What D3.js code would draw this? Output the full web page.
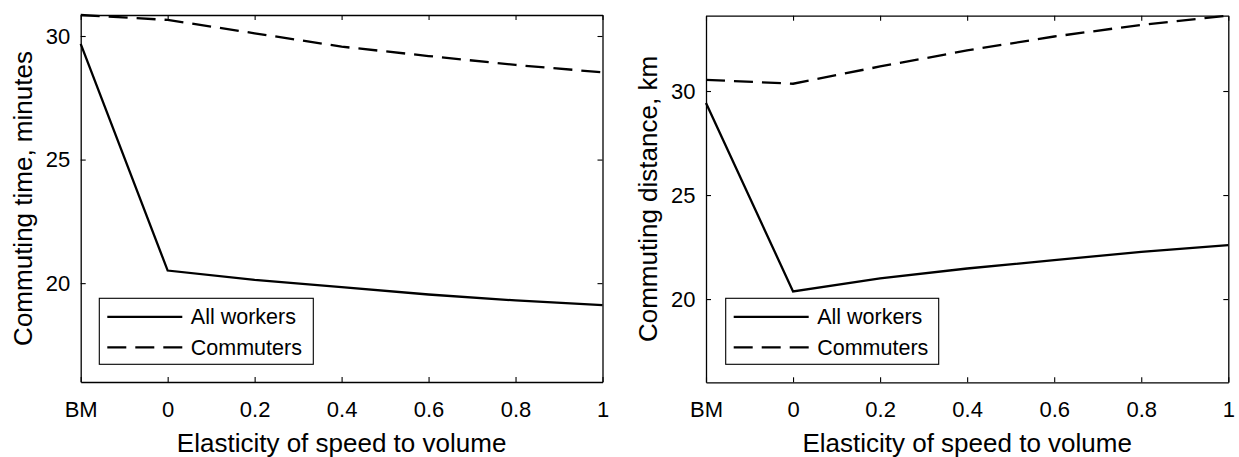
<!DOCTYPE html>
<html>
<head>
<meta charset="utf-8">
<script src="https://cdn.jsdelivr.net/npm/d3@7"></script>
<style>
  html, body { margin: 0; padding: 0; background: #fff; }
  svg { display: block; }
  text { font-family: "Liberation Sans", Arial, Helvetica, sans-serif; fill: #000; }
</style>
</head>
<body>
<svg id="chart" width="1239" height="457"></svg>
<script>
// ---- data ----
const xCategories = ["BM", "0", "0.2", "0.4", "0.6", "0.8", "1"];
const timeAllWorkers = [29.68, 20.51, 20.13, 19.84, 19.54, 19.30, 19.11];
const timeCommuters  = [30.85, 30.65, 30.11, 29.57, 29.19, 28.83, 28.53];
const distAllWorkers = [29.42, 20.37, 20.99, 21.47, 21.87, 22.27, 22.59];
const distCommuters  = [30.54, 30.35, 31.18, 31.95, 32.62, 33.18, 33.62];
const timeYTicks = [20, 25, 30];
const distYTicks = [20, 25, 30];
const timeYDomain = [16, 30.85];
const distYDomain = [16, 33.62];
const seriesNames = ["All workers", "Commuters"];
const xLabel = "Elasticity of speed to volume";
const timeYLabel = "Commuting time, minutes";
const distYLabel = "Commuting distance, km";

const svg = d3.select("#chart");

const panels = [
  { left: 80.7, right: 602.5, top: 15, bottom: 382, yDomain: timeYDomain, yTicks: timeYTicks,
    yLabel: timeYLabel, yLabelX: 32, series: [timeAllWorkers, timeCommuters],
    legend: { x: 99.3, y: 298.3, w: 214, h: 66 } },
  { left: 706, right: 1228.3, top: 15.7, bottom: 382.3, yDomain: distYDomain, yTicks: distYTicks,
    yLabel: distYLabel, yLabelX: 657, series: [distAllWorkers, distCommuters],
    legend: { x: 725.7, y: 298.3, w: 213, h: 66 } }
];

const dashes = [null, "19,9"];
const TICK_FS = 22;
const LABEL_FS = 26;
const LEGEND_FS = 21.5;

panels.forEach(p => {
  const g = svg.append("g");
  const x = d3.scalePoint().domain(xCategories).range([p.left, p.right]);
  const y = d3.scaleLinear().domain(p.yDomain).range([p.bottom, p.top]);
  const tl = 5;

  // data lines
  const line = d3.line().x((d, i) => x(xCategories[i])).y(d => y(d));
  p.series.forEach((s, k) => {
    g.append("path").datum(s)
      .attr("d", line)
      .attr("fill", "none")
      .attr("stroke", "#000")
      .attr("stroke-width", 2.3)
      .attr("stroke-dasharray", dashes[k]);
  });

  // axes (box with inward ticks)
  const bottomAxis = d3.axisBottom(x).tickSizeInner(-tl).tickSizeOuter(0).tickPadding(19);
  const topAxis = d3.axisTop(x).tickSizeInner(-tl).tickSizeOuter(0).tickFormat("");
  const leftAxis = d3.axisLeft(y).tickValues(p.yTicks).tickSizeInner(-tl).tickSizeOuter(0).tickPadding(10.5);
  const rightAxis = d3.axisRight(y).tickValues(p.yTicks).tickSizeInner(-tl).tickSizeOuter(0).tickFormat("");

  const styleAxis = sel => {
    sel.selectAll("path.domain").attr("stroke", "#000").attr("stroke-width", 1.3);
    sel.selectAll(".tick line").attr("stroke", "#000").attr("stroke-width", 1.1);
    sel.selectAll(".tick text").style("font-size", TICK_FS + "px")
      .style("font-family", '"Liberation Sans", Arial, sans-serif').attr("fill", "#000");
  };
  g.append("g").attr("transform", `translate(0,${p.bottom})`).call(bottomAxis).call(styleAxis);
  g.append("g").attr("transform", `translate(0,${p.top})`).call(topAxis).call(styleAxis);
  g.append("g").attr("transform", `translate(${p.left},0)`).call(leftAxis).call(styleAxis);
  g.append("g").attr("transform", `translate(${p.right},0)`).call(rightAxis).call(styleAxis);

  // x label
  g.append("text")
    .attr("x", (p.left + p.right) / 2)
    .attr("y", 452)
    .attr("text-anchor", "middle")
    .style("font-size", LABEL_FS + "px")
    .text(xLabel);

  // y label
  g.append("text")
    .attr("transform", `translate(${p.yLabelX},${(p.top + p.bottom) / 2}) rotate(-90)`)
    .attr("text-anchor", "middle")
    .style("font-size", LABEL_FS + "px")
    .text(p.yLabel);

  // legend
  const L = p.legend;
  const lg = g.append("g");
  lg.append("rect").attr("x", L.x).attr("y", L.y).attr("width", L.w).attr("height", L.h)
    .attr("fill", "#fff").attr("stroke", "#000").attr("stroke-width", 1.1);
  seriesNames.forEach((name, k) => {
    const ry = L.y + 18.5 + k * 30.5;
    lg.append("line")
      .attr("x1", L.x + 8).attr("x2", L.x + 83)
      .attr("y1", ry).attr("y2", ry)
      .attr("stroke", "#000").attr("stroke-width", 2.3)
      .attr("stroke-dasharray", dashes[k]);
    lg.append("text")
      .attr("x", L.x + 91.5).attr("y", ry)
      .attr("dy", "0.35em")
      .style("font-size", LEGEND_FS + "px")
      .text(name);
  });
});
</script>
</body>
</html>
